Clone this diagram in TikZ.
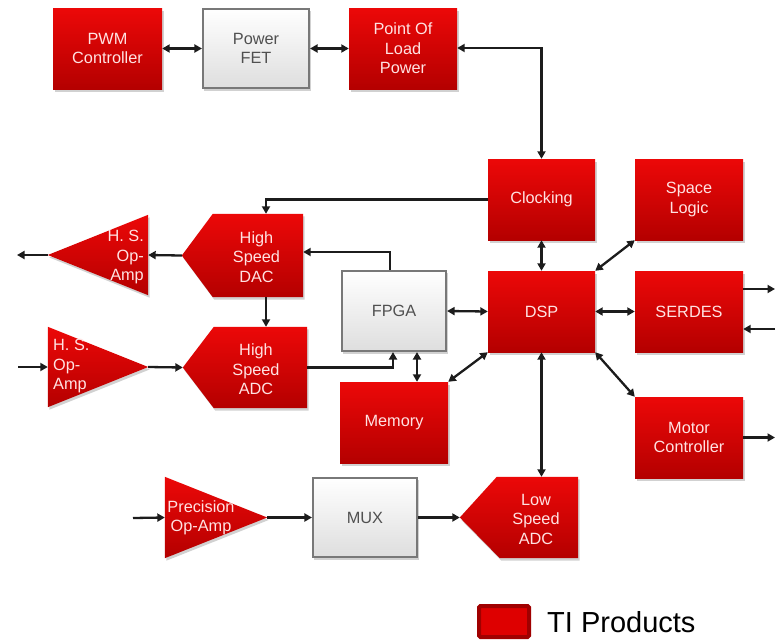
\documentclass[tikz,border=0pt]{standalone}
\usepackage{fontspec}
\setmainfont{Liberation Sans}
\usetikzlibrary{arrows.meta,shadows,calc}
\definecolor{redtop}{RGB}{236,8,8}
\definecolor{redbot}{RGB}{180,0,0}
\definecolor{redtxt}{RGB}{255,226,226}
\definecolor{graybord}{RGB}{120,120,120}
\definecolor{graytxt}{RGB}{80,80,80}
\definecolor{linec}{RGB}{28,28,28}
\definecolor{legred}{RGB}{222,0,0}
\definecolor{legdark}{RGB}{160,0,0}
\newcommand{\boxfont}{\fontsize{16.3}{19.5}\selectfont}
\tikzset{
  shadowed/.style={drop shadow={shadow xshift=1.5pt, shadow yshift=-2.5pt, opacity=0.18, fill=black}},
  redbox/.style={rectangle, top color=redtop, bottom color=redbot, draw=none, text=redtxt,
    font=\boxfont, align=center, inner sep=0pt, shadowed},
  graybox/.style={rectangle, top color=white, bottom color=black!13, draw=graybord, line width=1.6pt,
    text=graytxt, font=\boxfont, align=center, inner sep=0pt, shadowed},
  redshape/.style={top color=redtop, bottom color=redbot, shadowed},
  frame/.style={rectangle, inner sep=0pt, draw=none},
  lbl/.style={text=redtxt, font=\boxfont, inner sep=0pt},
  arr/.style={draw=linec, line width=2.3pt, -{Triangle[length=7.5pt,width=8pt]}},
  barr/.style={draw=linec, line width=2.3pt, {Triangle[length=7.5pt,width=8pt]}-{Triangle[length=7.5pt,width=8pt]}},
}
\begin{document}
\begin{tikzpicture}[x=1pt,y=-1pt]
\useasboundingbox (0,0) rectangle (778,640);
\fill[white] (0,0) rectangle (778,640);

% rectangular boxes
\node[redbox, minimum width=109, minimum height=81] (pwm) at (107.5,48.5) {PWM\\Controller};
\node[graybox, minimum width=106.5, minimum height=79.5] (fet) at (256,48.5) {Power\\FET};
\node[redbox, minimum width=108, minimum height=81] (pol) at (403,48.5) {Point Of\\Load\\Power};
\node[redbox, minimum width=107, minimum height=81] (clk) at (541.5,199.5) {Clocking};
\node[redbox, minimum width=107, minimum height=81] (dsp) at (541.5,311.5) {DSP};
\node[graybox, minimum width=104.5, minimum height=80.5] (fpga) at (394,311) {FPGA};
\node[redbox, minimum width=108, minimum height=81] (mem) at (394,422.5) {Memory};
\node[redbox, minimum width=108, minimum height=81] (space) at (689,199.5) {Space\\Logic};
\node[redbox, minimum width=108, minimum height=81] (serdes) at (689,311.5) {SERDES};
\node[redbox, minimum width=108, minimum height=81] (motor) at (689,437.5) {Motor\\Controller};
\node[graybox, minimum width=104.5, minimum height=79.5] (mux) at (365,517.5) {MUX};

% pentagon-shaped converters (pointing left)
\node[frame, minimum width=121, minimum height=83] (dac) at (242.5,255.5) {};
\path[redshape] (dac.north east) -- (dac.south east) -- ([xshift=31pt]dac.south west) -- (dac.west) -- ([xshift=31pt]dac.north west) -- cycle;
\node[lbl, align=center] (dactxt) at ([xshift=14pt,yshift=-1.5pt]dac.center) {High\\Speed\\DAC};

\node[frame, minimum width=124, minimum height=81] (hsadc) at (245,367.5) {};
\path[redshape] (hsadc.north east) -- (hsadc.south east) -- ([xshift=31pt]hsadc.south west) -- (hsadc.west) -- ([xshift=31pt]hsadc.north west) -- cycle;
\node[lbl, align=center] (hsadctxt) at ([xshift=11pt,yshift=-2pt]hsadc.center) {High\\Speed\\ADC};

\node[frame, minimum width=118, minimum height=81] (lowadc) at (519,517.5) {};
\path[redshape] (lowadc.north east) -- (lowadc.south east) -- ([xshift=40pt]lowadc.south west) -- (lowadc.west) -- ([xshift=37pt]lowadc.north west) -- cycle;
\node[lbl, align=center] (lowadctxt) at ([xshift=17pt,yshift=-1.5pt]lowadc.center) {Low\\Speed\\ADC};

% op-amps (triangles)
\node[frame, minimum width=100, minimum height=80] (op1) at (98,255) {};
\path[redshape] (op1.north east) -- (op1.south east) -- (op1.west) -- cycle;
\node[lbl, align=right, anchor=east] (op1txt) at (144,257) {H. S.\\Op-\\Amp};

\node[frame, minimum width=100, minimum height=80] (op2) at (98,367) {};
\path[redshape] (op2.north west) -- (op2.south west) -- (op2.east) -- cycle;
\node[lbl, align=left, anchor=west] (op2txt) at (53,366) {H. S.\\Op-\\Amp};

\node[frame, minimum width=102, minimum height=81] (prec) at (216,517.5) {};
\path[redshape] (prec.north west) -- (prec.south west) -- (prec.east) -- cycle;
\node[lbl, align=center] (prectxt) at (201,518) {Precision\\Op-Amp};

% free ends
\coordinate (opout) at (17,255);
\coordinate (opin) at (18,367);
\coordinate (precin) at (133,518);
\coordinate (serout) at (775,289);
\coordinate (serin) at (775,329);
\coordinate (motout) at (775,437.5);

% connectors
\draw[barr] (pwm.east) -- (fet.west);
\draw[barr] (fet.east) -- (pol.west);
\draw[barr] ([yshift=0.5pt]pol.east) -| (clk.north);
\draw[barr] (clk.south) -- (dsp.north);
\draw[arr] (clk.west) -| ([xshift=23.5pt]dac.north);
\draw[arr] ([xshift=23.5pt]dac.south) -- ([xshift=23.5pt]dac.south |- hsadc.north);
\draw[arr] ([xshift=-4pt]fpga.north) |- ([yshift=3.5pt]dac.east);
\draw[arr] (hsadc.east) -| ([xshift=-1pt]fpga.south);
\draw[barr] ([xshift=23pt]fpga.south) -- ([xshift=23pt]fpga.south |- mem.north);
\draw[barr] (fpga.east) -- (dsp.west);
\draw[barr] (dsp.south west) -- (mem.north east);
\draw[barr] (dsp.south) -- (dsp.south |- lowadc.north);
\draw[barr] (dsp.north east) -- (space.south west);
\draw[barr] (dsp.east) -- (serdes.west);
\draw[barr] (dsp.south east) -- (motor.north west);
\draw[arr] ([yshift=22.5pt]serdes.east) -- (serout);
\draw[arr] (serin) -- ([yshift=-17.5pt]serdes.east);
\draw[arr] (motor.east) -- (motout);
\draw[arr] (dac.west) -- (op1.east);
\draw[arr] (op1.west) -- (opout);
\draw[arr] (opin) -- (op2.west);
\draw[arr] (op2.east) -- (hsadc.west);
\draw[arr] (precin) -- (prec.west);
\draw[arr] (prec.east) -- (mux.west);
\draw[arr] (mux.east) -- (lowadc.west);

% legend
\node[draw=legdark, line width=4pt, fill=legred, rounded corners=1.5pt, minimum width=50, minimum height=31, inner sep=0pt] (leg) at (504,621.5) {};
\node[anchor=base west, font=\fontsize{29}{34}\selectfont, inner sep=0pt, text=black] (legtxt) at (547,632) {TI Products};
\end{tikzpicture}
\end{document}
